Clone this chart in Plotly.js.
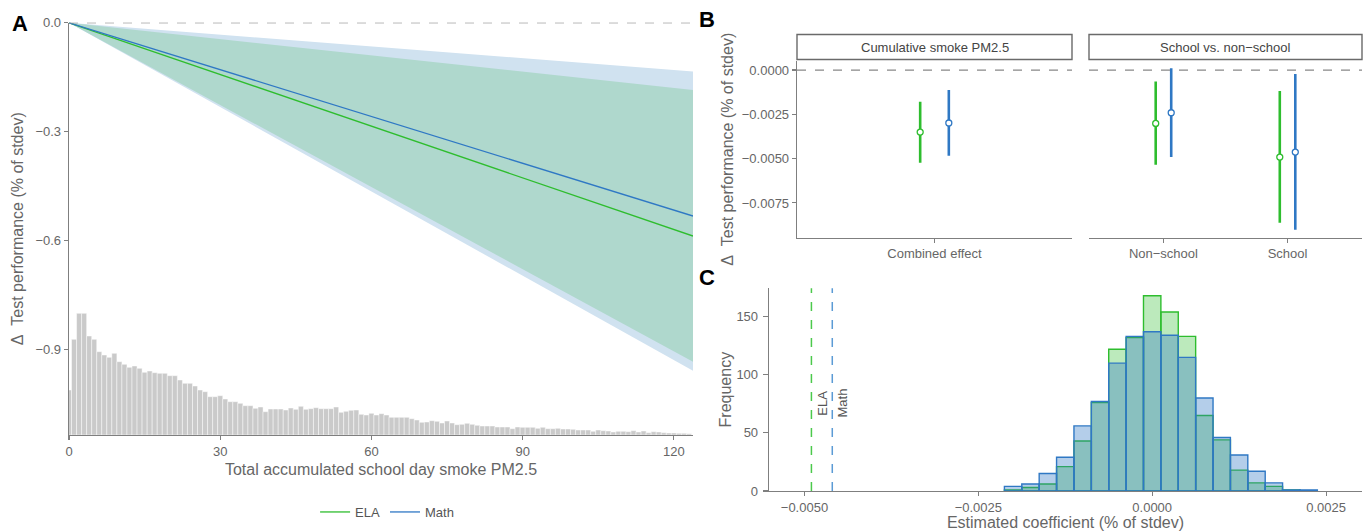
<!DOCTYPE html>
<html><head><meta charset="utf-8">
<script src="https://cdn.plot.ly/plotly-3.0.1.min.js"></script>
<style>html,body{margin:0;padding:0;background:#fff}#chart{width:1363px;height:531px}</style>
</head><body><div id="chart"></div>
<script>
// ---------- Panel A data ----------
const pmEnds = [0, 123.8];
const elaEst = [0, -0.587];
const elaLo  = [0, -0.933];
const elaHi  = [0, -0.185];
const mathEst = [0, -0.532];
const mathLo  = [0, -0.958];
const mathHi  = [0, -0.134];
const pmBinStart = 0;  // bins of width 1
const exposureHist = [45,95.7,121.7,121.7,99,95.7,83.3,80,77.7,81.7,73.3,70.7,67.7,69,66.7,62.7,64,62.3,61.7,61.7,
  59.3,59.3,55,51.7,51.7,49,45,43.3,38.3,38.3,39.3,36,33.3,33.3,31.7,29.3,29.3,26.7,28,23.3,
  26,26,26,25,27,25.7,28.7,25.7,26.3,27.3,26.3,26.3,26.3,28,22.7,23.7,24.7,25,20.7,20,
  21.7,20,21.3,20,17.7,17.7,17.7,17.7,16.3,15,12.7,13,14.3,13.7,12,14,12,10.3,10.7,11.7,
  10.7,9.7,9,9,9,8,8,8,6.3,8,7.7,7.7,7.7,6.7,7.7,6.3,6.3,6.7,6,6,
  5.7,5,5,5,3.7,5,4.3,4,3,3.7,3.7,3.3,4.3,3,4,2.3,3.3,3,2.3,2,2,1.7,1.7,1.3];

// ---------- Panel B data ----------
const facetNames = ['Cumulative smoke PM2.5', 'School vs. non\u2212school'];
const leftCats = ['Combined effect'];
const rightCats = ['Non\u2212school', 'School'];
// order: Combined effect, Non-school, School
const elaB  = [-0.00350, -0.00301, -0.00491];
const elaBlo = [-0.00523, -0.00534, -0.00862];
const elaBhi = [-0.00179, -0.00064, -0.00118];
const mathB  = [-0.00299, -0.00241, -0.00463];
const mathBlo = [-0.00484, -0.00491, -0.00901];
const mathBhi = [-0.00113, 0.00010, -0.00023];

// ---------- Panel C data ----------
const permBins = [-0.002,-0.00175,-0.0015,-0.00125,-0.001,-0.00075,-0.0005,-0.00025,0,0.00025,0.0005,0.00075,0.001,0.00125,0.0015,0.00175,0.002,0.00225];
const elaPerm  = [1,3,6,21,43,76,122,132,168,154,133,65,44,18,7,4,1,0];
const mathPerm = [4,6,15,29,56,77,110,133,137,134,115,80,46,31,17,7,1,1];
const elaActual = -0.0049;
const mathActual = -0.0046;

// ---------- styling ----------
const W = 1363, H = 531;
const ELA = '#2EBD2E', MATH = '#2F78C4';
const AX = '#7f7f7f', TXT = '#666666';
const FONT = 'Liberation Sans, Arial, sans-serif';
const NFONT = 'Liberation Sans Narrow, Arial Narrow, Liberation Sans, sans-serif';
const px = v => v / W;
const py = v => 1 - v / H;

const traces = [];
// Histogram (panel A)
traces.push({type:'bar', x: exposureHist.map((_, i) => pmBinStart + i), y: exposureHist, width: 1,
  xaxis:'x', yaxis:'y2', marker:{color:'#cacaca', line:{color:'rgba(255,255,255,0.75)', width:0.6}},
  showlegend:false, hoverinfo:'skip'});
// Ribbons
traces.push({type:'scatter', x: pmEnds, y: mathHi, mode:'lines', line:{width:0}, showlegend:false, xaxis:'x', yaxis:'y', hoverinfo:'skip'});
traces.push({type:'scatter', x: pmEnds, y: mathLo, mode:'lines', line:{width:0}, fill:'tonexty', fillcolor:'#d0e2f0', showlegend:false, xaxis:'x', yaxis:'y', hoverinfo:'skip'});
traces.push({type:'scatter', x: pmEnds, y: elaHi, mode:'lines', line:{width:0}, showlegend:false, xaxis:'x', yaxis:'y', hoverinfo:'skip'});
traces.push({type:'scatter', x: pmEnds, y: elaLo, mode:'lines', line:{width:0}, fill:'tonexty', fillcolor:'#afd8cd', showlegend:false, xaxis:'x', yaxis:'y', hoverinfo:'skip'});
traces.push({type:'scatter', x: pmEnds, y: elaEst, mode:'lines', name:'ELA', line:{color:ELA, width:1.3}, xaxis:'x', yaxis:'y'});
traces.push({type:'scatter', x: pmEnds, y: mathEst, mode:'lines', name:'Math', line:{color:MATH, width:1.3}, xaxis:'x', yaxis:'y'});

// Panel B
const dodge = 0.0625;
function bTrace(est, lo, hi, idx, xs, col, xa, ya) {
  const e = idx.map(i => est[i]);
  return {type:'scatter', mode:'markers', x: xs, y: e, xaxis: xa, yaxis: ya, showlegend:false,
    marker:{symbol:'circle', size:6, color:'white', line:{color:col, width:1.3}},
    error_y:{type:'data', symmetric:false, array: idx.map(i => hi[i] - est[i]), arrayminus: idx.map(i => est[i] - lo[i]), color: col, thickness: 2.6, width: 0},
    hoverinfo:'skip'};
}
traces.push(bTrace(elaB, elaBlo, elaBhi, [0], leftCats.map((_, i) => i + 1 - dodge), ELA, 'x2', 'y3'));
traces.push(bTrace(mathB, mathBlo, mathBhi, [0], leftCats.map((_, i) => i + 1 + dodge), MATH, 'x2', 'y3'));
traces.push(bTrace(elaB, elaBlo, elaBhi, [1, 2], rightCats.map((_, i) => i + 1 - dodge), ELA, 'x3', 'y4'));
traces.push(bTrace(mathB, mathBlo, mathBhi, [1, 2], rightCats.map((_, i) => i + 1 + dodge), MATH, 'x3', 'y4'));

// Panel C
traces.push({type:'bar', x: permBins, y: elaPerm, width: 0.00025, xaxis:'x4', yaxis:'y5', showlegend:false,
  marker:{color:'rgba(46,189,46,0.32)', line:{color:ELA, width:1.4}}, hoverinfo:'skip'});
traces.push({type:'bar', x: permBins, y: mathPerm, width: 0.00025, xaxis:'x4', yaxis:'y5', showlegend:false,
  marker:{color:'rgba(47,120,196,0.36)', line:{color:MATH, width:1.4}}, hoverinfo:'skip'});

const baseAxis = {showline:true, linecolor:AX, linewidth:1.3, ticks:'outside', ticklen:4, tickcolor:AX, tickwidth:1.1,
  showgrid:false, zeroline:false, fixedrange:true};

const layout = {
  width: W, height: H, margin:{l:0, r:0, t:0, b:0}, paper_bgcolor:'white', plot_bgcolor:'rgba(0,0,0,0)',
  font:{family: FONT, color: TXT},
  barmode:'overlay', bargap:0,
  showlegend:true,
  legend:{orientation:'h', traceorder:'normal', x:0.284, xanchor:'center', y:py(512), yanchor:'middle', font:{size:13, color:'#555'}, itemwidth:30, tracegroupgap:0},
  xaxis: Object.assign({}, baseAxis, {domain:[px(69), px(693)], range:[0, 123.8], anchor:'y', tickvals:[0,30,60,90,120],
    tickfont:{size:13, color:TXT}, title:{text:'Total accumulated school day smoke PM2.5', font:{size:16, color:TXT}, standoff:6}}),
  yaxis: Object.assign({}, baseAxis, {domain:[py(435), py(22.5)], range:[-1.135, 0.001], anchor:'x', tickvals:[0,-0.3,-0.6,-0.9], tickformat:'.1f',
    tickfont:{size:13, color:TXT}, title:{text:'\u0394\u00a0 Test performance (% of stdev)', font:{size:16, color:TXT}, standoff:7}}),
  yaxis2: {overlaying:'y', anchor:'x', range:[0, 412.5], visible:false, fixedrange:true},

  xaxis2: Object.assign({}, baseAxis, {domain:[px(797), px(1072)], range:[0.4, 1.6], anchor:'y3', tickvals: leftCats.map((_, i) => i + 1), ticktext: leftCats,
    tickfont:{family:NFONT, size:13, color:TXT}}),
  yaxis3: Object.assign({}, baseAxis, {domain:[py(237.5), py(61)], range:[-0.00945, 0.00051], anchor:'x2', tickvals:[0,-0.0025,-0.005,-0.0075], tickformat:'.4f',
    tickfont:{family:NFONT, size:13, color:TXT}, title:{text:'\u0394\u00a0 Test performance (% of stdev)', font:{family:NFONT, size:16, color:TXT}, standoff:4}}),
  xaxis3: Object.assign({}, baseAxis, {domain:[px(1089), px(1362)], range:[0.4, 2.6], anchor:'y4', tickvals: rightCats.map((_, i) => i + 1), ticktext: rightCats,
    tickfont:{family:NFONT, size:13, color:TXT}}),
  yaxis4: {domain:[py(237.5), py(61)], range:[-0.00945, 0.00051], anchor:'x3', showline:false, showticklabels:false, ticks:'', showgrid:false, zeroline:false, fixedrange:true},

  xaxis4: Object.assign({}, baseAxis, {domain:[px(769), px(1362)], range:[-0.00551, 0.003017], anchor:'y5', tickvals:[-0.005,-0.0025,0,0.0025], tickformat:'.4f',
    tickfont:{family:NFONT, size:13, color:TXT}, title:{text:'Estimated coefficient (% of stdev)', font:{family:NFONT, size:16, color:TXT}, standoff:4}}),
  yaxis5: Object.assign({}, baseAxis, {domain:[py(491), py(288.3)], range:[0, 174.4], anchor:'x4', tickvals:[0,50,100,150], ticklen:5, ticklabelstandoff:2,
    tickfont:{family:NFONT, size:13, color:TXT}, title:{text:'Frequency', font:{family:NFONT, size:16, color:TXT}, standoff:0}}),

  shapes: [
    {type:'line', xref:'x domain', yref:'y', x0:0, x1:1, y0:0, y1:0, line:{color:'#999', width:1, dash:'dash'}},
    {type:'line', xref:'x2 domain', yref:'y3', x0:0, x1:1, y0:0, y1:0, line:{color:'#888', width:1.2, dash:'dash'}},
    {type:'line', xref:'x3 domain', yref:'y4', x0:0, x1:1, y0:0, y1:0, line:{color:'#888', width:1.2, dash:'dash'}},
    {type:'rect', xref:'x2 domain', yref:'paper', x0:0, x1:1, y0:py(59.5), y1:py(34.5), line:{color:'#6a6a6a', width:1.4}, fillcolor:'white', layer:'below'},
    {type:'rect', xref:'x3 domain', yref:'paper', x0:0, x1:1, y0:py(59.5), y1:py(34.5), line:{color:'#6a6a6a', width:1.4}, fillcolor:'white', layer:'below'},
    {type:'line', xref:'x4', yref:'y5 domain', x0:elaActual, x1:elaActual, y0:0, y1:1, line:{color:'#4cc94c', width:1.5, dash:'dash'}},
    {type:'line', xref:'x4', yref:'y5 domain', x0:mathActual, x1:mathActual, y0:0, y1:1, line:{color:'#5b9bd5', width:1.5, dash:'dash'}}
  ],
  annotations: [
    {text:'<b>A</b>', xref:'paper', yref:'paper', x:px(20), y:py(23), xanchor:'center', yanchor:'middle', showarrow:false, font:{size:22, color:'black'}},
    {text:'<b>B</b>', xref:'paper', yref:'paper', x:px(707), y:py(20), xanchor:'center', yanchor:'middle', showarrow:false, font:{size:22, color:'black'}},
    {text:'<b>C</b>', xref:'paper', yref:'paper', x:px(707), y:py(277), xanchor:'center', yanchor:'middle', showarrow:false, font:{size:22, color:'black'}},
    {text: facetNames[0], xref:'x2 domain', yref:'paper', x:0.5, y:py(47), xanchor:'center', yanchor:'middle', showarrow:false, font:{family:NFONT, size:13, color:'#444'}},
    {text: facetNames[1], xref:'x3 domain', yref:'paper', x:0.5, y:py(47), xanchor:'center', yanchor:'middle', showarrow:false, font:{family:NFONT, size:13, color:'#444'}},
    {text:'ELA', xref:'x4', yref:'y5', x:elaActual, y:75.5, xshift:11, textangle:-90, showarrow:false, font:{family:NFONT, size:13, color:'#555'}},
    {text:'Math', xref:'x4', yref:'y5', x:mathActual, y:75.5, xshift:10, textangle:-90, showarrow:false, font:{family:NFONT, size:13, color:'#555'}}
  ]
};

Plotly.newPlot('chart', traces, layout, {staticPlot:true, displayModeBar:false});
</script>
</body></html>
